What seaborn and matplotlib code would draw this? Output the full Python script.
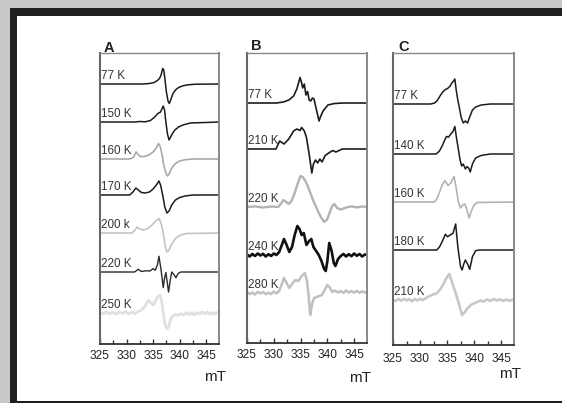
import numpy as np
import pandas as pd
import matplotlib
matplotlib.use("Agg")
import matplotlib.pyplot as plt
from matplotlib.patches import Rectangle
import matplotlib.transforms as mtransforms
import seaborn as sns

# ---------------- data (field in mT, signal deflection in arbitrary units) ----------------
x_ticks = [325, 330, 335, 340, 345]
x_minor = [327.5, 332.5, 337.5, 342.5]
panel_titles = ["A", "B", "C"]

# Panel A
A_labels = ["77 K", "150 K", "160 K", "170 K", "200 k", "220 K", "250 K"]
A77_x = [325, 333.0, 334.3, 335.2, 335.8, 336.2, 336.5, 336.8, 337.0, 337.2, 337.5, 337.8, 338.05, 338.3, 338.7, 339.2, 339.8, 340.6, 341.6, 343.0, 347.5]
A77_y = [0, 0, 0.5, 1.5, 3.5, 5.5, 9, 15.5, 14, 6, -8, -17, -19.5, -16, -10, -6, -3.5, -1.8, -0.8, -0.2, 0]
A150_x = [325, 331.5, 332.5, 333.5, 334.5, 335.3, 335.9, 336.4, 336.9, 337.15, 337.4, 337.7, 338.0, 338.3, 338.7, 339.1, 339.8, 340.6, 342, 347.5]
A150_y = [0, 0, 0.5, 0.2, 1.5, 5, 8.5, 10, 16, 12, 0, -12, -18, -15, -11, -8, -5, -3, -1, 0]
A160_x = [325, 330.5, 331.3, 331.8, 332.1, 332.6, 333.3, 334.2, 335.0, 335.6, 336.0, 336.3, 336.7, 337.0, 337.4, 337.7, 338.0, 338.5, 339.2, 340, 341, 342.5, 347.5]
A160_y = [0, 0, 1.5, 7, 5, 2.5, 2.5, 4, 7, 11, 15.5, 13, 4, -6, -14, -17, -15, -9, -4.5, -2, -0.7, 0, 0]
A170_x = [325, 330.6, 331.2, 331.75, 332.2, 332.8, 333.5, 334.3, 335.0, 335.6, 336.1, 336.4, 336.8, 337.2, 337.6, 338.0, 338.5, 339.2, 340.0, 341.0, 342.5, 347.5]
A170_y = [0, 0, 3, 7, 5, 2.5, 2, 3, 6, 10, 14, 10, 0, -12, -18, -16, -10, -5, -2.5, -1, 0, 0]
A200_x = [325, 331.0, 331.6, 332.0, 332.5, 333.2, 334.0, 334.8, 335.5, 336.1, 336.5, 336.9, 337.3, 337.6, 338.0, 338.5, 339.3, 340.2, 341.3, 347.5]
A200_y = [0, 0, 3, 6, 4, 3, 4.5, 8, 12, 14.5, 10, 0, -14, -19, -17, -11, -5, -2, -0.5, 0]
A220_x = [325, 331.5, 332.2, 332.8, 333.6, 334.4, 335.0, 335.4, 335.8, 336.1, 336.5, 336.9, 337.15, 337.4, 337.65, 337.9, 338.2, 338.5, 338.9, 339.3, 339.7, 340.2, 347.5]
A220_y = [0, 0, 2.7, 0.5, 1.2, 1.0, 3.3, 1.7, 7, 15.7, 2, -15.6, -6, -0.5, -10, -20, -9, 0, -2.5, -5.7, -1.5, 0, 0]
A250_x = [325, 325.6, 326.2, 326.8, 327.4, 328.0, 328.6, 329.2, 329.8, 330.4, 331.0, 331.6, 332.2, 332.8, 333.4, 334.1, 334.6, 335.1, 335.6, 336.0,
          336.3, 336.6, 336.9, 337.2, 337.6, 337.9, 338.3, 338.7, 339.2, 339.7, 340.2, 340.7, 341.2, 341.7, 342.2, 342.7, 343.2, 343.7, 344.2, 344.7,
          345.2, 345.7, 346.2, 346.7, 347.2, 347.5]
A250_y = [0.5, -1, 1.2, -0.8, 0.6, -1.3, 1, -0.5, 1.4, -1, 0.8, -0.6, 1.5, 3, 6, 13, 10, 8, 14, 17,
          18, 12, 0, -10, -16, -14, -6, -3, -1.5, -2.5, -0.5, -2, 0.2, -1.5, 0.5, -1.8, 0.3, -1, 1, -0.8,
          0.8, -1.2, 0.5, -1, 0.8, 0]

# Panel B
B_labels = ["77 K", "210 K", "220 K", "240 K", "280 K"]
B77_x = [325, 330.5, 331.8, 332.8, 333.7, 334.3, 334.9, 335.15, 335.4, 335.7, 336.0, 336.3, 336.6, 336.9, 337.2, 337.5, 337.8, 338.1, 338.45, 338.7, 339.2, 340.1, 341.3, 343, 347.5]
B77_y = [0, 0, 1, 3, 7, 14, 25.5, 21, 15, 19, 8, 11.5, 3, 2, 5, 4, -3, -10, -18, -14, -8, -2, -0.5, 0, 0]
B210_x = [325, 330.4, 331.1, 331.9, 332.8, 333.7, 334.3, 334.9, 335.2, 335.7, 336.1, 336.6, 337.1, 337.4, 337.8, 338.2, 338.6, 339.0, 339.6, 340.4, 341.0, 341.6, 342.8, 347.5]
B210_y = [0, 0, 8, 5, 10, 18, 20, 18.5, 21.5, 18, 11.5, -5, -24, -15, -11, -14, -10, -13, -6.5, -3.5, -1.5, -3, 0, 0]
B220_x = [325, 326.5, 328, 329.5, 330.8, 331.3, 331.8, 332.3, 332.8, 333.3, 333.9, 334.5, 335.0, 335.4, 335.9, 336.4, 336.9, 337.4, 337.9, 338.4,
          338.9, 339.4, 339.9, 340.4, 340.9, 341.3, 341.8, 342.5, 343.5, 344.5, 345.5, 346.5, 347.5]
B220_y = [0, 0.6, -0.5, 0.5, 0, 3, 7, 5, 3, 6, 14, 24, 31, 30, 26, 20, 13, 6, 0, -6,
          -11, -15, -13, -6, 1, 3, -1, -2.5, -0.5, 0.6, -0.4, 0.5, 0]
B240_x = [325, 325.5, 326, 326.5, 327, 327.5, 328, 328.5, 329, 329.5, 330, 330.5, 331, 331.5,
          331.9, 332.4, 332.9, 333.4, 333.9, 334.4, 334.8, 335.2, 335.6, 336.1,
          336.6, 337.0, 337.4, 337.9, 338.4, 338.9, 339.4, 339.7, 340.0, 340.35,
          340.8, 341.2, 341.5, 342.0, 342.5, 343, 343.5, 344, 344.5, 345,
          345.5, 346, 346.5, 347, 347.5]
B240_y = [0.5, -1.5, 1, -1, 1.5, -0.5, 1.2, -1.5, 0.8, -1, 1.5, 0, 3, 10,
          16, 10, 3, 8, 20, 29, 26, 20, 22, 10,
          14, 16, 8, 4, 0, -6, -14, -16, -6, 12,
          4, -8, -11, -4, -1, 1, -1.5, 0.8, -1.2, 1.5,
          -0.8, 1, -1.5, 0.5, 0]
B280_x = [325, 325.5, 326, 326.5, 327, 327.5, 328, 328.5, 329, 329.5, 330, 330.5,
          331.0, 331.5, 331.9, 332.4, 332.9, 333.4, 334.0, 334.6,
          335.2, 335.8, 336.2, 336.5, 336.8, 337.1, 337.5, 338.0, 338.5, 339.0,
          339.5, 340.0, 340.4, 340.9, 341.4, 342, 342.5, 343, 343.5, 344,
          344.5, 345, 345.5, 346, 346.5, 347, 347.5]
B280_y = [1, -1, 0.5, -1.5, 1.2, -0.5, 1, -1.2, 0.5, -1, 1.5, -0.5,
          2, 9, 15, 10, 5, 9, 13, 12,
          17, 20, 12, -2, -22, -12, -5, -4, -3, -2,
          3, 8, 6, 1, 2.5, 0.5, 2, 0, 2.5, 0.5,
          2, 0.3, 2.2, 0, 1.8, 0.5, 1]

# Panel C
C_labels = ["77 K", "140 K", "160 K", "180 K", "210 K"]
C77_x = [325, 332.0, 332.7, 333.2, 333.7, 334.2, 334.7, 335.1, 335.5, 335.9, 336.2, 336.45, 336.7, 337.0, 337.3, 337.6, 338.0, 338.4, 338.8, 339.2, 339.7, 340.3, 341.3, 343, 347.6]
C77_y = [0, 0, 1, 3.5, 8, 12, 14.5, 15.5, 17.5, 21, 23, 25, 14, 4, -4, -13, -19, -17, -19, -13, -6, -3, -1, 0, 0]
C140_x = [325, 333.0, 333.6, 334.1, 334.5, 334.9, 335.3, 335.7, 336.1, 336.45, 336.7, 337.0, 337.4, 337.7, 338.0, 338.4, 338.7, 339.0, 339.3, 339.7, 340.3, 341.3, 343, 347.6]
C140_y = [0, 0, 3, 8, 13, 17.5, 17, 20, 22.5, 27.5, 18, 8, -5.5, -12, -10, -15, -12.5, -14, -18, -10, -4, -1.5, 0, 0]
C160_x = [325, 332.7, 333.2, 333.7, 334.1, 334.6, 335.2, 335.7, 336.3, 336.7, 337.1, 337.5, 337.9, 338.3, 338.7, 339.1, 339.5, 340.0, 340.6, 347.6]
C160_y = [0, 0, 4, 11, 17, 21.5, 16.5, 19, 25.5, 14, 0, -6, -3, -2, -8, -16, -9, -3, -0.5, 0]
C180_x = [325, 333.1, 333.6, 334.1, 334.7, 335.1, 335.6, 336.1, 336.6, 337.0, 337.5, 337.8, 338.1, 338.4, 338.9, 339.2, 339.5, 339.7, 340.3, 341, 347.6]
C180_y = [0, 0, 3, 8.3, 15.7, 13.3, 15, 16.7, 26, 3.3, -16.7, -20, -14, -10, -15, -19.3, -12, -6.7, -0.7, 0, 0]
C210_x = [325, 325.5, 326, 326.5, 327, 327.5, 328, 328.5, 329, 329.5, 330, 330.5, 331,
          331.5, 332.2, 333.1, 333.8, 334.4, 334.9, 335.4,
          335.8, 336.2, 336.6, 337.0, 337.4, 337.8, 338.3, 338.8, 339.4, 340.0,
          340.6, 341.2, 341.8, 342.4, 343, 343.6, 344.2, 344.8, 345.4, 346,
          346.6, 347.2, 347.6]
C210_y = [0.5, -1, 1, -0.8, 1.2, -0.5, 0.8, -1.2, 1, -0.5, 1.2, 0, 1.5,
          3.3, 5, 6.7, 11, 16.7, 22, 26,
          20, 13.3, 7, 0, -8, -15, -12, -8.3, -5, -3.3,
          -2, -0.5, -1.5, 0.5, -1, 1, -0.6, 0.8, -1, 0.5,
          -0.8, 0.6, 0]

# ---------------- layout / style ----------------
W, H = 562, 403
sns.set_style("ticks")
plt.rcParams["font.family"] = ["Liberation Sans", "DejaVu Sans"]

fig = plt.figure(figsize=(W / 100, H / 100), dpi=100, facecolor="#c9c9c9")
fig.patches.append(Rectangle((10 / W, 0), 1, (H - 8) / H, transform=fig.transFigure,
                             facecolor="#231f20", edgecolor="none", zorder=-2))
fig.patches.append(Rectangle((17 / W, 2 / H), 1, (401 - 16) / H, transform=fig.transFigure,
                             facecolor="white", edgecolor="none", zorder=-1))

BLK = "#1c1c1c"
panels = [
    dict(box=(100, 53, 219, 344), title_xy=(104, 51.5), mt_xy=(215, 377), pad=4.0,
         traces=[(A_labels[0], A77_x, A77_y, 260, BLK, 1.1),
                 (A_labels[1], A150_x, A150_y, 222, BLK, 1.1),
                 (A_labels[2], A160_x, A160_y, 185, "#a9a9a9", 1.2),
                 (A_labels[3], A170_x, A170_y, 149, BLK, 1.1),
                 (A_labels[4], A200_x, A200_y, 111, "#c2c2c2", 1.2),
                 (A_labels[5], A220_x, A220_y, 72, "#2a2a2a", 1.0),
                 (A_labels[6], A250_x, A250_y, 31, "#e0e0e0", 2.0)]),
    dict(box=(247, 53, 367, 343), title_xy=(250.5, 50.5), mt_xy=(360, 378), pad=4.0,
         traces=[(B_labels[0], B77_x, B77_y, 240, BLK, 1.2),
                 (B_labels[1], B210_x, B210_y, 194, BLK, 1.2),
                 (B_labels[2], B220_x, B220_y, 136, "#b3b3b3", 1.7),
                 (B_labels[3], B240_x, B240_y, 88, "#111111", 1.9),
                 (B_labels[4], B280_x, B280_y, 50, "#c0c0c0", 1.8)]),
    dict(box=(393, 53, 514, 345), title_xy=(398.5, 51), mt_xy=(510, 374), pad=6.0,
         traces=[(C_labels[0], C77_x, C77_y, 241, BLK, 1.1),
                 (C_labels[1], C140_x, C140_y, 191, BLK, 1.1),
                 (C_labels[2], C160_x, C160_y, 143, "#b3b3b3", 1.2),
                 (C_labels[3], C180_x, C180_y, 95, BLK, 1.1),
                 (C_labels[4], C210_x, C210_y, 45, "#c8c8c8", 1.9)]),
]

for title, p in zip(panel_titles, panels):
    l, t, r, b = p["box"]
    ax = fig.add_axes([l / W, 1 - b / H, (r - l) / W, (b - t) / H])
    ax.set_facecolor("white")
    trans = mtransforms.blended_transform_factory(ax.transAxes, ax.transData)
    for lab, xs, ys, off, col, lw in p["traces"]:
        df = pd.DataFrame({"mT": xs, "signal": off + np.asarray(ys, dtype=float)})
        sns.lineplot(data=df, x="mT", y="signal", ax=ax, color=col, lw=lw,
                     sort=False, estimator=None, legend=False)
        ax.text(0.012, off + 2.0, lab, transform=trans, fontsize=8.4,
                color="#333333", ha="left", va="bottom", zorder=5)
    ax.set_xlim(325, 347.4)
    ax.set_ylim(0, b - t)
    ax.set_xlabel("")
    ax.set_ylabel("")
    ax.set_yticks([])
    ax.set_xticks(x_ticks)
    ax.set_xticks(x_minor, minor=True)
    ax.set_xticklabels([str(v) for v in x_ticks])
    ax.tick_params(axis="x", which="major", direction="in", length=3.6, width=1.0,
                   color="#333333", labelsize=8.6, labelcolor="#222222", pad=p["pad"])
    ax.tick_params(axis="x", which="minor", direction="in", length=2.6, width=1.0,
                   color="#333333")
    ax.spines["bottom"].set_color("#333333")
    ax.spines["bottom"].set_linewidth(1.3)
    ax.spines["left"].set_color("#666666")
    ax.spines["left"].set_linewidth(1.5)
    ax.spines["top"].set_color("#888888")
    ax.spines["top"].set_linewidth(1.0)
    ax.spines["right"].set_color("#888888")
    ax.spines["right"].set_linewidth(1.4)
    tx, ty = p["title_xy"]
    fig.text(tx / W, 1 - ty / H, title, fontsize=10.5, fontweight="bold",
             color="#222222", ha="left", va="baseline")
    mx, my = p["mt_xy"]
    fig.text(mx / W, 1 - my / H, "mT", fontsize=11, color="#222222",
             ha="center", va="center")

fig.savefig("out.png", dpi=100, facecolor=fig.get_facecolor())
